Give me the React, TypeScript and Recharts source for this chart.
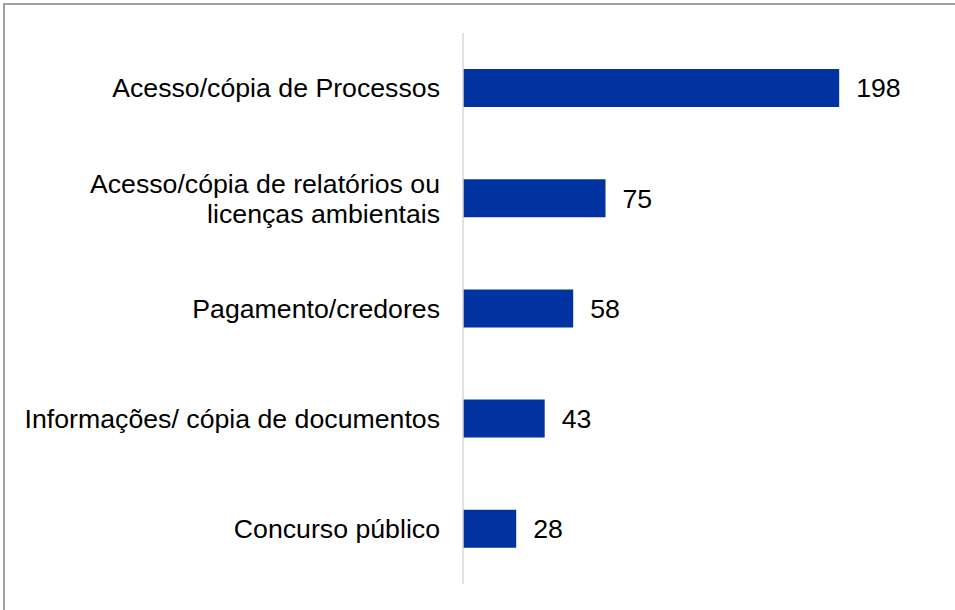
import { Bar, BarChart, LabelList, XAxis, YAxis } from "recharts";

const categories = [
  "Acesso/cópia de Processos",
  "Acesso/cópia de relatórios ou\nlicenças ambientais",
  "Pagamento/credores",
  "Informações/ cópia de documentos",
  "Concurso público",
];
const values = [198, 75, 58, 43, 28];

const chartData = categories.map((name, i) => ({ name, value: values[i] }));

const FONT = "Arial, 'Liberation Sans', sans-serif";

function CategoryTick(props: any) {
  const { x, y, payload } = props;
  const lines = String(payload.value).split("\n");
  const lineHeight = 30;
  const start = y - ((lines.length - 1) * lineHeight) / 2;
  return (
    <text x={x} y={start} textAnchor="end" fill="#000" fontSize={26.7} fontFamily={FONT}>
      {lines.map((line, i) => (
        <tspan key={i} x={x} y={start + i * lineHeight} dy="0.35em">
          {line}
        </tspan>
      ))}
    </text>
  );
}

export default function App() {
  return (
    <div
      style={{
        position: "absolute",
        left: 0,
        top: 0,
        width: 955,
        height: 610,
        background: "#fff",
        overflow: "hidden",
      }}
    >
      <div
        style={{
          position: "absolute",
          left: 3,
          top: 3,
          width: 1000,
          height: 650,
          borderLeft: "2px solid #a0a0a0",
          borderTop: "2px solid #a0a0a0",
        }}
      />
      <div style={{ position: "absolute", left: 0, top: 0 }}>
        <BarChart
          width={955}
          height={610}
          data={chartData}
          layout="vertical"
          margin={{ top: 33, right: 17, left: 0, bottom: 26 }}
          barCategoryGap={36}
        >
          <XAxis type="number" domain={[0, 250]} hide />
          <YAxis
            type="category"
            dataKey="name"
            width={463}
            tickLine={false}
            tickSize={0}
            tickMargin={23}
            axisLine={{ stroke: "#d9d9d9", strokeWidth: 1.5 }}
            tick={<CategoryTick />}
            interval={0}
          />
          <Bar dataKey="value" fill="#0033A0" isAnimationActive={false}>
            <LabelList
              dataKey="value"
              position="right"
              offset={17}
              fill="#000"
              fontSize={26.7}
              fontFamily={FONT}
            />
          </Bar>
        </BarChart>
      </div>
    </div>
  );
}
